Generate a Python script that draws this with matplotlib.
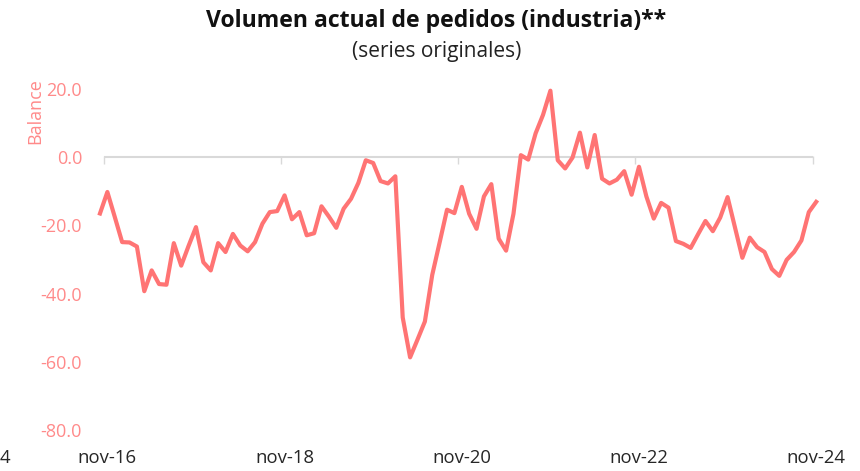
import matplotlib
matplotlib.use("Agg")
import matplotlib.pyplot as plt
import numpy as np
import pandas as pd

# Balance mensual, oct-16 .. nov-24
balance = [
    -16.5, -10.2, -17.5, -24.9, -25.0, -26.2, -39.3, -33.2, -37.2, -37.4,
    -25.2, -31.8, -26.0, -20.5, -30.8, -33.2, -25.2, -27.8, -22.5, -25.9,
    -27.6, -24.9, -19.5, -16.1, -15.8, -11.2, -18.2, -16.1, -22.9, -22.3,
    -14.4, -17.4, -20.7, -15.1, -12.2, -7.5, -0.9, -1.7, -7.0, -7.7,
    -5.6, -47.0, -58.7, -53.5, -48.2, -34.5, -25.0, -15.4, -16.4, -8.7,
    -16.6, -21.0, -11.5, -7.9, -23.9, -27.4, -16.6, 0.6, -0.7, 7.0,
    12.4, 19.5, -0.9, -3.3, -0.1, 7.2, -3.0, 6.5, -6.3, -7.7,
    -6.6, -4.1, -11.0, -2.8, -11.5, -18.0, -13.4, -14.8, -24.6, -25.4,
    -26.6, -22.6, -18.7, -21.7, -17.7, -11.7, -20.6, -29.5, -23.6, -26.4,
    -27.8, -32.8, -34.8, -30.1, -27.8, -24.4, -16.1, -13.1,
]
months = pd.date_range("2016-10-01", periods=len(balance), freq="MS")
y_ticks = [20, 0, -20, -40, -60, -80]

title = "Volumen actual de pedidos (industria)**"
subtitle = "(series originales)"
ylabel = "Balance"

line_color = "#FF7474"
pink_text = "#FF8A8A"
font = ["Open Sans", "DejaVu Sans"]

x = np.arange(len(balance))
nov_idx = [i for i, m in enumerate(months) if m.month == 11 and (m.year - 2016) % 2 == 0]
nov_lbl = [f"nov-{months[i].year % 100:02d}" for i in nov_idx]

fig = plt.figure(figsize=(8.6, 4.71), dpi=100)
ax = fig.add_axes([96 / 860, 41 / 471, 725 / 860, 341 / 471])

ax.plot(x, balance, color=line_color, lw=3, solid_joinstyle="round", clip_on=False, zorder=3)

# zero axis line with tick marks between categories
ax.hlines(0, 0.5, len(balance) - 1.5, color="#D9D9D9", lw=1.5, zorder=1)
ax.vlines([i - 0.5 for i in nov_idx], -2.0, 0.4, color="#D9D9D9", lw=1.0, zorder=1)

ax.set_xlim(-0.54, len(balance) - 1 + 0.65)
ax.set_ylim(-80, 20)
for s in ax.spines.values():
    s.set_visible(False)

ax.set_yticks(y_ticks)
ax.set_yticklabels([f"{v:.1f}" for v in y_ticks], color=pink_text, fontsize=13, family=font)
ax.set_xticks(nov_idx)
ax.set_xticklabels(nov_lbl, color="#262626", fontsize=13.3, family=font)
ax.tick_params(axis="both", length=0)
ax.tick_params(axis="y", pad=10)
ax.tick_params(axis="x", pad=14)

fig.text(35 / 860, 1 - 111 / 471, ylabel, rotation=90, color=pink_text, fontsize=13,
         family=font, ha="center", va="center")
fig.text(436 / 860, 1 - 21 / 471, title, fontsize=16.6, fontweight="bold", family=font,
         ha="center", va="center", color="#111111")
fig.text(437 / 860, 1 - 52 / 471, subtitle, fontsize=15, family=font,
         ha="center", va="center", color="#222222")
# trailing character of a neighbouring label, cut at the left edge
fig.text(0 / 860, 1 - 458 / 471, "4", fontsize=13.3, family=font, ha="left", va="center",
         color="#262626")

fig.savefig("out.png", dpi=100, facecolor="white")
